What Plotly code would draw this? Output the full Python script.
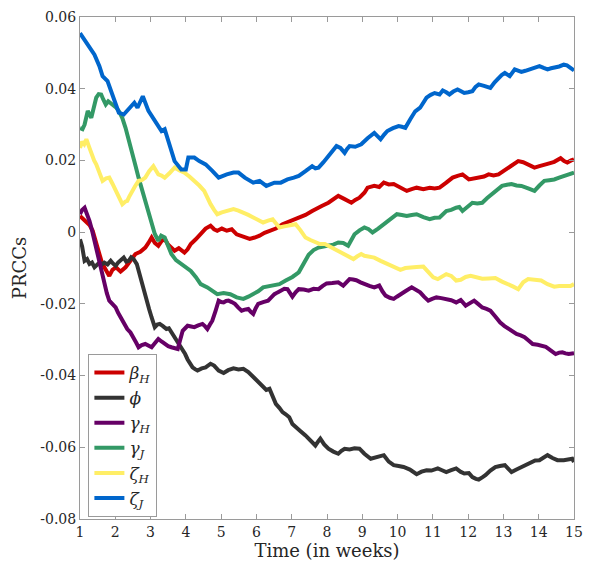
import plotly.graph_objects as go

# PRCC time courses for each parameter (time in weeks, PRCC value)
t_beta_h = [1.00, 1.08, 1.18, 1.27, 1.36, 1.46, 1.55, 1.62, 1.69, 1.76, 1.83, 1.92, 2.02, 2.15, 2.29, 2.43, 2.57, 2.71, 2.85, 2.94, 3.03, 3.12, 3.22, 3.31, 3.40, 3.50, 3.59, 3.68, 3.80, 3.96, 4.05, 4.14, 4.28, 4.42, 4.56, 4.70, 4.80, 4.89, 5.02, 5.16, 5.30, 5.44, 5.63, 5.81, 5.95, 6.09, 6.23, 6.37, 6.55, 6.74, 6.90, 7.06, 7.20, 7.39, 7.58, 7.72, 7.85, 8.04, 8.18, 8.32, 8.50, 8.69, 8.80, 8.92, 9.06, 9.15, 9.34, 9.48, 9.61, 9.75, 9.89, 10.08, 10.26, 10.40, 10.54, 10.73, 10.91, 11.05, 11.19, 11.38, 11.56, 11.70, 11.84, 12.02, 12.17, 12.30, 12.45, 12.58, 12.72, 12.86, 13.00, 13.14, 13.28, 13.42, 13.56, 13.70, 13.88, 14.02, 14.16, 14.30, 14.44, 14.62, 14.72, 14.81, 14.92, 15.00]
v_beta_h = [0.0045, 0.0038, 0.0031, 0.0020, 0.0004, -0.0030, -0.0061, -0.0085, -0.0098, -0.0112, -0.0122, -0.0105, -0.0098, -0.0110, -0.0098, -0.0080, -0.0061, -0.0055, -0.0043, -0.0030, -0.0015, -0.0030, -0.0038, -0.0025, -0.0019, -0.0035, -0.0045, -0.0052, -0.0045, -0.0057, -0.0048, -0.0033, -0.0020, -0.0006, 0.0010, 0.0018, 0.0008, 0.0004, 0.0010, 0.0004, 0.0008, -0.0006, -0.0012, -0.0019, -0.0015, -0.0010, -0.0002, 0.0004, 0.0010, 0.0022, 0.0028, 0.0036, 0.0041, 0.0048, 0.0059, 0.0065, 0.0073, 0.0082, 0.0090, 0.0101, 0.0092, 0.0082, 0.0090, 0.0096, 0.0110, 0.0124, 0.0129, 0.0126, 0.0138, 0.0133, 0.0134, 0.0124, 0.0115, 0.0120, 0.0124, 0.0120, 0.0124, 0.0122, 0.0124, 0.0138, 0.0152, 0.0157, 0.0161, 0.0147, 0.0150, 0.0152, 0.0155, 0.0161, 0.0158, 0.0161, 0.0170, 0.0180, 0.0190, 0.0198, 0.0195, 0.0189, 0.0180, 0.0184, 0.0189, 0.0192, 0.0196, 0.0206, 0.0198, 0.0194, 0.0200, 0.0203]

t_phi = [1.00, 1.06, 1.13, 1.20, 1.27, 1.34, 1.41, 1.48, 1.55, 1.62, 1.69, 1.78, 1.87, 1.94, 2.01, 2.08, 2.15, 2.24, 2.31, 2.38, 2.45, 2.52, 2.61, 2.68, 2.75, 2.82, 2.89, 2.96, 3.03, 3.12, 3.19, 3.26, 3.35, 3.45, 3.52, 3.59, 3.66, 3.73, 3.82, 3.91, 3.98, 4.05, 4.12, 4.19, 4.26, 4.33, 4.45, 4.56, 4.70, 4.80, 4.93, 5.07, 5.20, 5.35, 5.49, 5.63, 5.77, 5.91, 6.05, 6.19, 6.28, 6.37, 6.46, 6.55, 6.65, 6.74, 6.83, 6.93, 7.02, 7.11, 7.25, 7.39, 7.53, 7.67, 7.76, 7.81, 7.92, 8.04, 8.18, 8.32, 8.41, 8.50, 8.64, 8.78, 8.92, 9.06, 9.24, 9.42, 9.61, 9.75, 9.89, 10.03, 10.17, 10.35, 10.54, 10.68, 10.82, 10.96, 11.14, 11.26, 11.38, 11.52, 11.66, 11.78, 11.89, 12.02, 12.12, 12.22, 12.30, 12.40, 12.49, 12.63, 12.77, 12.90, 13.04, 13.14, 13.23, 13.37, 13.51, 13.65, 13.79, 13.90, 14.02, 14.14, 14.25, 14.39, 14.53, 14.71, 14.85, 14.95, 15.00]
v_phi = [-0.0020, -0.0040, -0.0080, -0.0075, -0.0089, -0.0085, -0.0098, -0.0090, -0.0085, -0.0090, -0.0085, -0.0090, -0.0080, -0.0088, -0.0094, -0.0085, -0.0080, -0.0071, -0.0082, -0.0080, -0.0070, -0.0075, -0.0089, -0.0115, -0.0145, -0.0170, -0.0191, -0.0215, -0.0238, -0.0265, -0.0258, -0.0256, -0.0262, -0.0270, -0.0268, -0.0279, -0.0290, -0.0302, -0.0315, -0.0326, -0.0340, -0.0355, -0.0368, -0.0377, -0.0382, -0.0386, -0.0380, -0.0377, -0.0367, -0.0372, -0.0386, -0.0393, -0.0385, -0.0380, -0.0383, -0.0381, -0.0390, -0.0403, -0.0418, -0.0432, -0.0440, -0.0437, -0.0455, -0.0479, -0.0490, -0.0502, -0.0508, -0.0516, -0.0535, -0.0544, -0.0555, -0.0567, -0.0580, -0.0595, -0.0582, -0.0576, -0.0592, -0.0604, -0.0612, -0.0618, -0.0610, -0.0604, -0.0606, -0.0603, -0.0604, -0.0618, -0.0632, -0.0628, -0.0622, -0.0640, -0.0650, -0.0652, -0.0655, -0.0662, -0.0675, -0.0668, -0.0664, -0.0665, -0.0659, -0.0664, -0.0669, -0.0664, -0.0659, -0.0668, -0.0673, -0.0672, -0.0683, -0.0688, -0.0690, -0.0684, -0.0678, -0.0665, -0.0655, -0.0652, -0.0650, -0.0660, -0.0669, -0.0662, -0.0655, -0.0648, -0.0641, -0.0637, -0.0636, -0.0630, -0.0622, -0.0630, -0.0636, -0.0636, -0.0634, -0.0632, -0.0641]

t_gamma_h = [1.00, 1.06, 1.13, 1.20, 1.27, 1.34, 1.41, 1.48, 1.55, 1.62, 1.69, 1.76, 1.83, 1.92, 2.01, 2.08, 2.15, 2.24, 2.34, 2.43, 2.52, 2.59, 2.66, 2.75, 2.85, 2.94, 3.03, 3.12, 3.22, 3.31, 3.40, 3.50, 3.59, 3.68, 3.77, 3.84, 3.91, 3.98, 4.05, 4.15, 4.24, 4.35, 4.47, 4.54, 4.61, 4.68, 4.75, 4.84, 4.93, 5.00, 5.07, 5.14, 5.21, 5.30, 5.39, 5.48, 5.58, 5.67, 5.77, 5.84, 5.91, 5.98, 6.05, 6.19, 6.33, 6.42, 6.51, 6.60, 6.70, 6.79, 6.88, 6.95, 7.02, 7.11, 7.20, 7.34, 7.48, 7.62, 7.76, 7.88, 7.99, 8.15, 8.32, 8.46, 8.55, 8.64, 8.74, 8.83, 8.95, 9.06, 9.20, 9.34, 9.48, 9.57, 9.66, 9.78, 9.89, 9.98, 10.08, 10.22, 10.40, 10.52, 10.64, 10.75, 10.87, 10.98, 11.10, 11.24, 11.38, 11.52, 11.66, 11.79, 11.93, 12.05, 12.17, 12.28, 12.40, 12.52, 12.63, 12.77, 12.91, 13.03, 13.14, 13.26, 13.37, 13.49, 13.60, 13.72, 13.83, 13.97, 14.11, 14.20, 14.29, 14.38, 14.48, 14.58, 14.67, 14.76, 14.85, 15.00]
v_gamma_h = [0.0050, 0.0062, 0.0068, 0.0050, 0.0031, 0.0005, -0.0024, -0.0055, -0.0089, -0.0118, -0.0145, -0.0170, -0.0191, -0.0200, -0.0210, -0.0225, -0.0238, -0.0255, -0.0270, -0.0280, -0.0293, -0.0308, -0.0321, -0.0315, -0.0312, -0.0318, -0.0321, -0.0310, -0.0298, -0.0305, -0.0312, -0.0318, -0.0321, -0.0323, -0.0326, -0.0300, -0.0275, -0.0268, -0.0261, -0.0263, -0.0265, -0.0260, -0.0256, -0.0262, -0.0270, -0.0258, -0.0247, -0.0220, -0.0191, -0.0195, -0.0196, -0.0192, -0.0191, -0.0195, -0.0200, -0.0210, -0.0219, -0.0216, -0.0214, -0.0222, -0.0228, -0.0212, -0.0200, -0.0195, -0.0191, -0.0182, -0.0173, -0.0168, -0.0163, -0.0158, -0.0159, -0.0168, -0.0180, -0.0168, -0.0159, -0.0160, -0.0163, -0.0158, -0.0159, -0.0150, -0.0143, -0.0142, -0.0140, -0.0149, -0.0140, -0.0131, -0.0132, -0.0134, -0.0140, -0.0145, -0.0150, -0.0154, -0.0149, -0.0165, -0.0177, -0.0183, -0.0186, -0.0180, -0.0173, -0.0165, -0.0154, -0.0160, -0.0168, -0.0180, -0.0191, -0.0186, -0.0182, -0.0184, -0.0186, -0.0190, -0.0196, -0.0189, -0.0205, -0.0197, -0.0191, -0.0200, -0.0210, -0.0214, -0.0219, -0.0235, -0.0252, -0.0262, -0.0270, -0.0278, -0.0284, -0.0288, -0.0293, -0.0303, -0.0312, -0.0314, -0.0316, -0.0320, -0.0326, -0.0332, -0.0340, -0.0336, -0.0335, -0.0338, -0.0340, -0.0338]

t_gamma_j = [1.00, 1.07, 1.13, 1.22, 1.32, 1.40, 1.46, 1.53, 1.60, 1.66, 1.73, 1.80, 1.92, 2.02, 2.10, 2.20, 2.29, 2.38, 2.47, 2.56, 2.66, 2.75, 2.85, 2.94, 3.03, 3.12, 3.22, 3.30, 3.40, 3.50, 3.59, 3.72, 3.86, 4.00, 4.14, 4.28, 4.42, 4.61, 4.75, 4.89, 5.07, 5.26, 5.44, 5.63, 5.77, 5.91, 6.05, 6.19, 6.37, 6.51, 6.65, 6.83, 7.02, 7.20, 7.34, 7.48, 7.62, 7.76, 7.90, 8.04, 8.18, 8.32, 8.46, 8.60, 8.70, 8.78, 8.92, 9.06, 9.18, 9.29, 9.45, 9.61, 9.80, 9.98, 10.12, 10.26, 10.40, 10.54, 10.73, 10.91, 11.05, 11.19, 11.38, 11.52, 11.66, 11.75, 11.84, 11.98, 12.12, 12.26, 12.40, 12.54, 12.68, 12.82, 12.96, 13.10, 13.23, 13.37, 13.51, 13.70, 13.88, 14.02, 14.16, 14.30, 14.44, 14.58, 14.71, 14.85, 15.00]
v_gamma_j = [0.0290, 0.0287, 0.0300, 0.0338, 0.0319, 0.0350, 0.0375, 0.0385, 0.0384, 0.0370, 0.0356, 0.0365, 0.0356, 0.0348, 0.0338, 0.0318, 0.0291, 0.0260, 0.0226, 0.0190, 0.0152, 0.0120, 0.0087, 0.0055, 0.0022, -0.0005, -0.0024, -0.0010, -0.0015, -0.0040, -0.0061, -0.0078, -0.0089, -0.0098, -0.0108, -0.0125, -0.0145, -0.0154, -0.0165, -0.0173, -0.0170, -0.0173, -0.0182, -0.0186, -0.0180, -0.0173, -0.0165, -0.0154, -0.0150, -0.0148, -0.0145, -0.0135, -0.0125, -0.0112, -0.0090, -0.0063, -0.0050, -0.0043, -0.0040, -0.0038, -0.0035, -0.0029, -0.0030, -0.0038, -0.0020, -0.0006, 0.0005, 0.0013, 0.0008, -0.0001, 0.0010, 0.0022, 0.0036, 0.0050, 0.0048, 0.0045, 0.0048, 0.0050, 0.0042, 0.0036, 0.0040, 0.0041, 0.0059, 0.0062, 0.0068, 0.0070, 0.0059, 0.0070, 0.0082, 0.0080, 0.0082, 0.0095, 0.0106, 0.0118, 0.0129, 0.0132, 0.0134, 0.0130, 0.0129, 0.0122, 0.0115, 0.0130, 0.0143, 0.0145, 0.0147, 0.0152, 0.0157, 0.0162, 0.0166]

t_zeta_h = [1.00, 1.06, 1.12, 1.18, 1.25, 1.32, 1.40, 1.46, 1.55, 1.64, 1.74, 1.83, 1.92, 2.02, 2.11, 2.20, 2.28, 2.34, 2.40, 2.47, 2.56, 2.66, 2.75, 2.85, 2.96, 3.08, 3.15, 3.22, 3.31, 3.40, 3.54, 3.68, 3.82, 3.96, 4.10, 4.24, 4.38, 4.52, 4.61, 4.70, 4.80, 4.89, 5.02, 5.16, 5.35, 5.49, 5.63, 5.77, 5.91, 6.05, 6.19, 6.33, 6.46, 6.55, 6.65, 6.79, 6.93, 7.11, 7.25, 7.39, 7.53, 7.67, 7.80, 7.94, 8.08, 8.22, 8.36, 8.50, 8.64, 8.75, 8.85, 8.97, 9.06, 9.20, 9.34, 9.52, 9.71, 9.89, 10.08, 10.22, 10.36, 10.54, 10.73, 10.87, 11.01, 11.14, 11.28, 11.38, 11.52, 11.66, 11.79, 11.93, 12.07, 12.26, 12.40, 12.58, 12.77, 12.96, 13.14, 13.28, 13.42, 13.56, 13.70, 13.88, 14.07, 14.25, 14.44, 14.58, 14.76, 14.90, 15.00]
v_zeta_h = [0.0235, 0.0252, 0.0245, 0.0259, 0.0240, 0.0217, 0.0200, 0.0189, 0.0165, 0.0143, 0.0150, 0.0152, 0.0135, 0.0115, 0.0095, 0.0078, 0.0085, 0.0087, 0.0100, 0.0115, 0.0128, 0.0143, 0.0145, 0.0152, 0.0170, 0.0184, 0.0170, 0.0161, 0.0158, 0.0152, 0.0165, 0.0180, 0.0172, 0.0166, 0.0155, 0.0143, 0.0130, 0.0115, 0.0095, 0.0078, 0.0062, 0.0050, 0.0055, 0.0059, 0.0064, 0.0060, 0.0055, 0.0048, 0.0041, 0.0035, 0.0027, 0.0032, 0.0036, 0.0025, 0.0013, 0.0016, 0.0018, 0.0022, 0.0005, -0.0015, -0.0022, -0.0029, -0.0033, -0.0033, -0.0040, -0.0050, -0.0055, -0.0061, -0.0068, -0.0075, -0.0068, -0.0061, -0.0066, -0.0068, -0.0071, -0.0080, -0.0089, -0.0096, -0.0105, -0.0100, -0.0098, -0.0097, -0.0096, -0.0110, -0.0126, -0.0131, -0.0122, -0.0117, -0.0122, -0.0135, -0.0133, -0.0125, -0.0122, -0.0126, -0.0130, -0.0129, -0.0128, -0.0138, -0.0145, -0.0152, -0.0159, -0.0140, -0.0131, -0.0133, -0.0135, -0.0145, -0.0152, -0.0150, -0.0149, -0.0150, -0.0145]

t_zeta_j = [1.00, 1.13, 1.27, 1.41, 1.55, 1.64, 1.78, 1.87, 1.97, 2.10, 2.24, 2.40, 2.54, 2.63, 2.78, 2.94, 3.12, 3.31, 3.40, 3.54, 3.68, 3.87, 4.00, 4.07, 4.24, 4.38, 4.56, 4.75, 4.93, 5.16, 5.35, 5.49, 5.67, 5.91, 6.09, 6.28, 6.51, 6.69, 6.88, 7.06, 7.20, 7.39, 7.58, 7.67, 7.76, 7.90, 8.04, 8.15, 8.27, 8.38, 8.50, 8.57, 8.64, 8.80, 8.97, 9.15, 9.34, 9.43, 9.52, 9.62, 9.71, 9.87, 10.03, 10.12, 10.22, 10.36, 10.50, 10.64, 10.73, 10.82, 10.94, 11.05, 11.19, 11.28, 11.38, 11.47, 11.58, 11.70, 11.80, 11.89, 12.00, 12.12, 12.21, 12.30, 12.45, 12.63, 12.75, 12.86, 12.95, 13.04, 13.18, 13.32, 13.42, 13.51, 13.62, 13.74, 13.88, 14.02, 14.14, 14.25, 14.35, 14.44, 14.58, 14.71, 14.80, 14.90, 15.00]
v_zeta_j = [0.0555, 0.0537, 0.0514, 0.0495, 0.0463, 0.0435, 0.0421, 0.0398, 0.0365, 0.0333, 0.0328, 0.0347, 0.0361, 0.0347, 0.0379, 0.0338, 0.0310, 0.0282, 0.0287, 0.0245, 0.0198, 0.0175, 0.0175, 0.0208, 0.0208, 0.0198, 0.0189, 0.0171, 0.0152, 0.0161, 0.0166, 0.0166, 0.0152, 0.0138, 0.0143, 0.0129, 0.0138, 0.0138, 0.0147, 0.0152, 0.0157, 0.0170, 0.0184, 0.0178, 0.0180, 0.0195, 0.0212, 0.0228, 0.0240, 0.0235, 0.0221, 0.0232, 0.0240, 0.0238, 0.0245, 0.0262, 0.0277, 0.0268, 0.0259, 0.0272, 0.0282, 0.0290, 0.0296, 0.0294, 0.0291, 0.0315, 0.0337, 0.0347, 0.0362, 0.0375, 0.0383, 0.0388, 0.0384, 0.0395, 0.0390, 0.0384, 0.0392, 0.0398, 0.0393, 0.0388, 0.0390, 0.0393, 0.0405, 0.0412, 0.0408, 0.0402, 0.0418, 0.0430, 0.0438, 0.0444, 0.0435, 0.0454, 0.0450, 0.0447, 0.0450, 0.0454, 0.0458, 0.0463, 0.0458, 0.0454, 0.0457, 0.0458, 0.0462, 0.0467, 0.0465, 0.0458, 0.0451]

series_names = [
    "<i>β</i><sub><i>H</i></sub>",
    "<i>ϕ</i>",
    "<i>γ</i><sub><i>H</i></sub>",
    "<i>γ</i><sub><i>J</i></sub>",
    "<i>ζ</i><sub><i>H</i></sub>",
    "<i>ζ</i><sub><i>J</i></sub>",
]
series_colors = ["#CC0000", "#333333", "#660066", "#339966", "#FFEE66", "#0066CC"]
series_t = [t_beta_h, t_phi, t_gamma_h, t_gamma_j, t_zeta_h, t_zeta_j]
series_v = [v_beta_h, v_phi, v_gamma_h, v_gamma_j, v_zeta_h, v_zeta_j]

x_ticks = list(range(1, 16))
y_ticks = [-0.08, -0.06, -0.04, -0.02, 0, 0.02, 0.04, 0.06]
y_tick_text = ["-0.08", "-0.06", "-0.04", "-0.02", "0", "0.02", "0.04", "0.06"]

SERIF = "DejaVu Serif"
AXIS_GRAY = "#9a9a9a"

fig = go.Figure()
for name, color, t, v in zip(series_names, series_colors, series_t, series_v):
    fig.add_trace(go.Scatter(
        x=t, y=v, mode="lines", name=name,
        line=dict(color=color, width=4),
    ))

axis_common = dict(
    showline=True, linecolor=AXIS_GRAY, linewidth=1, mirror="ticks",
    ticks="inside", ticklen=5, tickcolor=AXIS_GRAY, tickwidth=1,
    showgrid=False, zeroline=False,
    tickfont=dict(family=SERIF, size=14, color="#262626"),
)

fig.update_layout(
    width=592, height=568,
    margin=dict(l=80, r=9, t=16, b=49),
    paper_bgcolor="white", plot_bgcolor="white",
    font=dict(family=SERIF, color="#262626"),
    xaxis=dict(
        range=[1, 15], tickvals=x_ticks, ticktext=[str(v) for v in x_ticks],
        title=dict(text="Time (in weeks)", font=dict(family=SERIF, size=18), standoff=0),
        **axis_common,
    ),
    yaxis=dict(
        range=[-0.08, 0.06], tickvals=y_ticks, ticktext=y_tick_text,
        title=dict(text="PRCCs", font=dict(family=SERIF, size=18), standoff=8),
        **axis_common,
    ),
    legend=dict(
        x=0.017, y=0.004, xanchor="left", yanchor="bottom",
        bgcolor="white", bordercolor=AXIS_GRAY, borderwidth=1,
        font=dict(family=SERIF, size=17, color="#262626"),
        tracegroupgap=0, itemwidth=30,
    ),
    showlegend=True,
)

fig.write_html("out.html")
